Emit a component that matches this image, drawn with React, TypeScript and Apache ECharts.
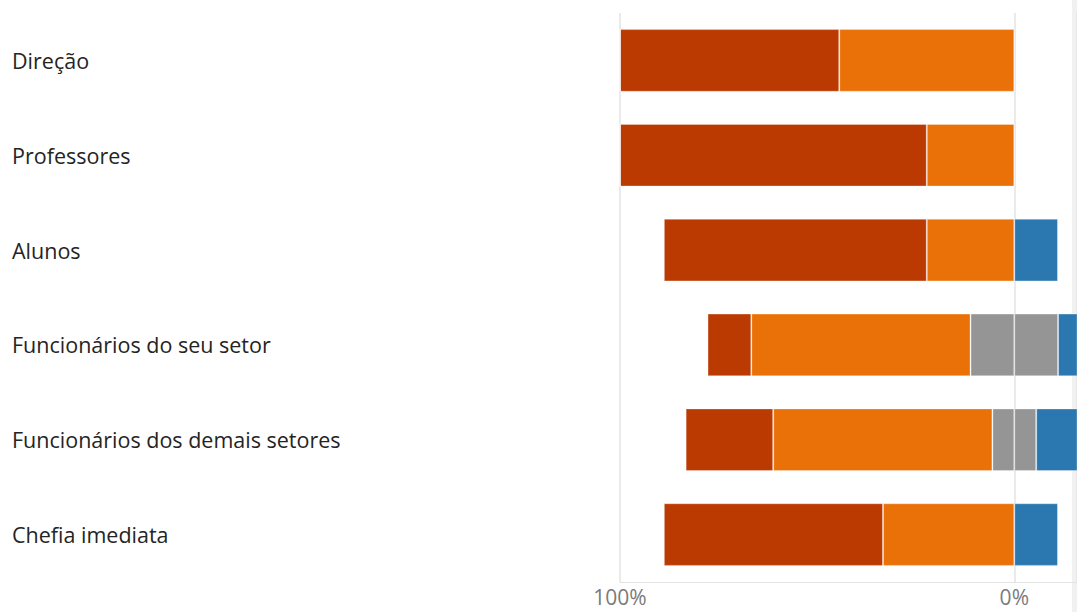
import React, { useEffect, useRef } from "react";
import * as echarts from "echarts";

const categories = [
  "Direção",
  "Professores",
  "Alunos",
  "Funcionários do seu setor",
  "Funcionários dos demais setores",
  "Chefia imediata",
];

// percentages (negative side drawn to the left)
const muitoInsatisfeito = [55.6, 77.8, 66.7, 11.1, 22.2, 55.6];
const insatisfeito = [44.4, 22.2, 22.2, 55.6, 55.6, 33.3];
const neutro = [0, 0, 0, 22.2, 11.1, 0];
const satisfeito = [0, 0, 11.1, 11.1, 11.1, 11.1];
const muitoSatisfeito = [0, 0, 0, 0, 0, 0];

const xTicks = [-100, 0];

const COLORS = {
  dark: "#BB3A02",
  orange: "#EA7107",
  grey: "#959595",
  blue: "#2A78AF",
  navy: "#1B4F7A",
};

export default function App() {
  const ref = useRef<HTMLDivElement>(null);

  useEffect(() => {
    if (!ref.current) return;
    const chart = echarts.init(ref.current, undefined, { renderer: "svg" });
    const border = { borderColor: "rgba(255,255,255,0.3)", borderWidth: 1 };
    const mk = (name: string, data: number[], color: string) => ({
      name,
      type: "bar",
      stack: "total",
      data,
      barWidth: "66%",
      itemStyle: { color, ...border },
      z: 3,
    });
    chart.setOption({
      animation: false,
      backgroundColor: "#ffffff",
      textStyle: { fontFamily: "Open Sans" },
      graphic: [
        {
          type: "rect",
          z: 0,
          shape: { x: 1072, y: 0, width: 5, height: 612 },
          style: { fill: "#f1f1f1" },
        },
      ],
      grid: { left: 620, top: 13, height: 569, right: 0, containLabel: false },
      xAxis: {
        type: "value",
        min: -100,
        max: 15.9,
        interval: 100,
        axisLine: { show: true, lineStyle: { color: "#e3e3e3", width: 1 } },
        axisTick: { show: false },
        splitLine: { show: true, lineStyle: { color: "#e3e3e3", width: 1.5 } },
        axisLabel: {
          formatter: (v: number) => (xTicks.includes(v) ? Math.abs(v) + "%" : ""),
          showMaxLabel: false,
          color: "#7a7a7a",
          fontSize: 21,
          margin: 4,
          fontFamily: "Open Sans",
        },
      },
      yAxis: {
        type: "category",
        data: categories,
        inverse: true,
        axisLine: { show: false },
        axisTick: { show: false },
        splitLine: { show: false },
        axisLabel: {
          align: "left",
          margin: 608,
          color: "#252423",
          fontSize: 21.5,
          fontFamily: "Open Sans",
        },
      },
      series: [
        mk("Neutro (−)", neutro.map((v) => -v / 2), COLORS.grey),
        mk("Insatisfeito", insatisfeito.map((v) => -v), COLORS.orange),
        mk("Muito insatisfeito", muitoInsatisfeito.map((v) => -v), COLORS.dark),
        mk("Neutro (+)", neutro.map((v) => v / 2), COLORS.grey),
        mk("Satisfeito", satisfeito, COLORS.blue),
        mk("Muito satisfeito", muitoSatisfeito, COLORS.navy),
      ],
    });
    return () => chart.dispose();
  }, []);

  return (
    <div
      ref={ref}
      style={{ position: "absolute", left: 0, top: 0, width: 1077, height: 612 }}
    />
  );
}
